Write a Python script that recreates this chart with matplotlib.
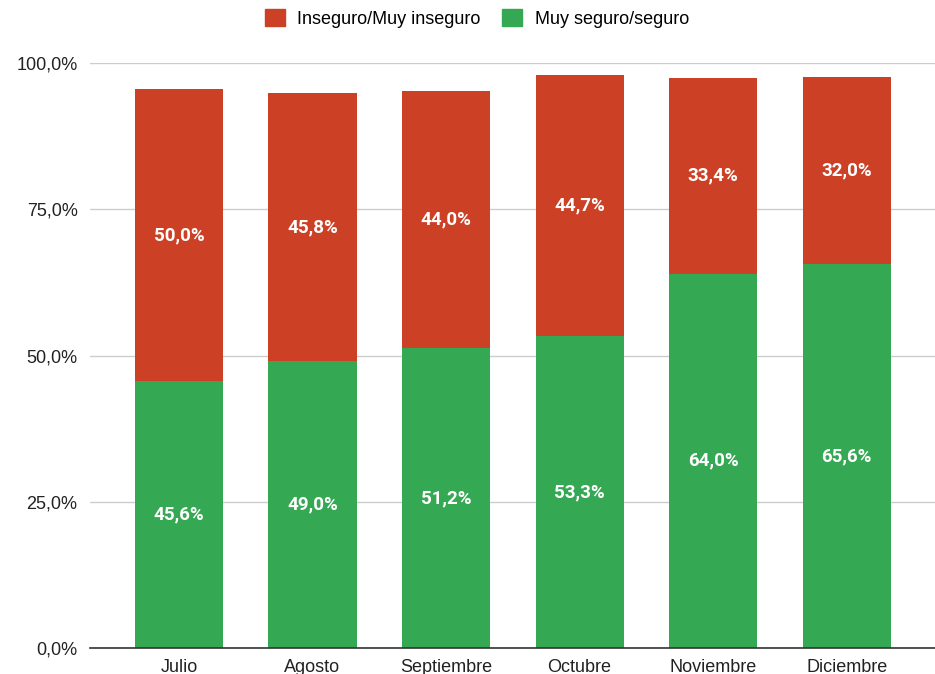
import matplotlib.pyplot as plt
from matplotlib.patches import Patch

meses = ['Julio', 'Agosto', 'Septiembre', 'Octubre', 'Noviembre', 'Diciembre']
seguro = [45.6, 49.0, 51.2, 53.3, 64.0, 65.6]
inseguro = [50.0, 45.8, 44.0, 44.7, 33.4, 32.0]
yticks = [0, 25, 50, 75, 100]

c_rojo = '#cc4125'
c_verde = '#34a853'

fig = plt.figure(figsize=(9.35, 6.74), dpi=100)
ax = fig.add_axes([0.0963, 0.0386, 0.905, 0.8679])

x = list(range(len(meses)))
ax.bar(x, seguro, width=0.66, color=c_verde, zorder=2)
ax.bar(x, inseguro, width=0.66, bottom=seguro, color=c_rojo, zorder=2)

for i in x:
    ax.text(i, seguro[i] / 2, f'{seguro[i]:.1f}%'.replace('.', ','),
            ha='center', va='center', color='white', fontsize=13.5,
            fontweight='bold', family='Roboto', zorder=3)
    ax.text(i, seguro[i] + inseguro[i] / 2, f'{inseguro[i]:.1f}%'.replace('.', ','),
            ha='center', va='center', color='white', fontsize=13.5,
            fontweight='bold', family='Roboto', zorder=3)

ax.set_xlim(-0.665, 5.67)
ax.set_ylim(0, 100)
ax.set_yticks(yticks)
ax.set_yticklabels([f'{v:.1f}%'.replace('.', ',') for v in yticks],
                   family='Liberation Sans', fontsize=13, color='#222222')
ax.set_xticks(x)
ax.set_xticklabels(meses, family='Liberation Sans', fontsize=13, color='#222222')
ax.tick_params(length=0, axis='y', pad=9)
ax.tick_params(length=0, axis='x', pad=8)
ax.grid(axis='y', color='#cccccc', linewidth=1, zorder=0)
for s in ['top', 'right', 'left']:
    ax.spines[s].set_visible(False)
ax.spines['bottom'].set_color('#333333')
ax.spines['bottom'].set_linewidth(1.2)
ax.spines['bottom'].set_zorder(4)

handles = [Patch(color=c_rojo, label='Inseguro/Muy inseguro'),
           Patch(color=c_verde, label='Muy seguro/seguro')]
fig.legend(handles=handles, loc='center', bbox_to_anchor=(0.51, 0.973), ncol=2,
           frameon=False, prop={'family': 'Liberation Sans', 'size': 13},
           handlelength=1.1, handleheight=1.1, columnspacing=1.2, handletextpad=0.7)

fig.savefig('out.png', dpi=100)
